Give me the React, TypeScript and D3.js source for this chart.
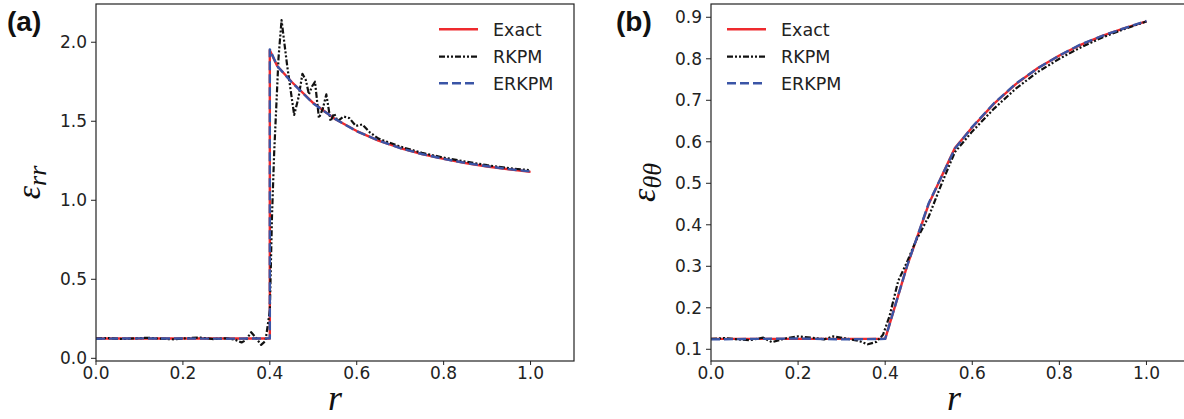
import React from "react";
import * as d3 from "d3";

// ---------- data ----------
const xTicks = [0, 0.2, 0.4, 0.6, 0.8, 1.0];
const yTicksA = [0, 0.5, 1.0, 1.5, 2.0];
const yTicksB = [0.1, 0.2, 0.3, 0.4, 0.5, 0.6, 0.7, 0.8, 0.9];
const seriesNames = ["Exact", "RKPM", "ERKPM"];

// panel (a): eps_rr
const rExactA = [0, 0.1, 0.2, 0.3, 0.4, 0.4, 0.417, 0.45, 0.5, 0.55, 0.6, 0.65, 0.7, 0.75, 0.8, 0.85, 0.9, 0.95, 1.0];
const vExactA = [0.125, 0.125, 0.125, 0.125, 0.125, 1.95, 1.85, 1.75, 1.615, 1.514, 1.438, 1.378, 1.331, 1.293, 1.262, 1.236, 1.214, 1.196, 1.18];
const vErkpmA = [0.124, 0.126, 0.125, 0.124, 0.126, 1.955, 1.85, 1.748, 1.613, 1.515, 1.437, 1.378, 1.33, 1.293, 1.262, 1.236, 1.215, 1.197, 1.182];
const rRkpmA = [0, 0.03, 0.06, 0.09, 0.12, 0.15, 0.18, 0.21, 0.24, 0.27, 0.3, 0.32, 0.335, 0.345, 0.357, 0.368, 0.38, 0.39, 0.4, 0.405, 0.41, 0.42, 0.427, 0.44, 0.456, 0.466, 0.475, 0.483, 0.49, 0.497, 0.504, 0.513, 0.522, 0.53, 0.54, 0.548, 0.556, 0.57, 0.583, 0.598, 0.613, 0.63, 0.65, 0.7, 0.75, 0.8, 0.85, 0.9, 0.95, 1.0];
const vRkpmA = [0.125, 0.128, 0.122, 0.126, 0.13, 0.124, 0.12, 0.128, 0.131, 0.122, 0.127, 0.118, 0.1, 0.115, 0.165, 0.13, 0.085, 0.11, 0.3, 0.9, 1.3, 1.9, 2.14, 1.85, 1.54, 1.65, 1.8, 1.76, 1.67, 1.72, 1.75, 1.52, 1.58, 1.67, 1.5, 1.55, 1.5, 1.53, 1.52, 1.47, 1.48, 1.43, 1.39, 1.34, 1.3, 1.27, 1.245, 1.222, 1.203, 1.19];

// panel (b): eps_thetatheta
const rExactB = [0, 0.1, 0.2, 0.3, 0.4, 0.45, 0.5, 0.56, 0.6, 0.65, 0.7, 0.75, 0.8, 0.85, 0.9, 0.95, 1.0];
const vExactB = [0.125, 0.125, 0.125, 0.125, 0.125, 0.3, 0.45, 0.585, 0.635, 0.692, 0.739, 0.777, 0.808, 0.834, 0.856, 0.874, 0.89];
const vErkpmB = [0.124, 0.125, 0.126, 0.124, 0.125, 0.3, 0.452, 0.583, 0.636, 0.693, 0.74, 0.777, 0.808, 0.835, 0.856, 0.874, 0.891];
const rRkpmB = [0, 0.03, 0.06, 0.09, 0.12, 0.14, 0.17, 0.2, 0.23, 0.26, 0.28, 0.31, 0.34, 0.36, 0.38, 0.395, 0.41, 0.43, 0.45, 0.47, 0.5, 0.53, 0.56, 0.6, 0.65, 0.7, 0.75, 0.8, 0.85, 0.9, 0.95, 1.0];
const vRkpmB = [0.125, 0.127, 0.124, 0.122, 0.128, 0.117, 0.126, 0.131, 0.128, 0.124, 0.131, 0.126, 0.12, 0.112, 0.118, 0.135, 0.18, 0.265, 0.31, 0.36, 0.42, 0.5, 0.575, 0.625, 0.68, 0.728, 0.768, 0.8, 0.828, 0.852, 0.872, 0.89];

// ---------- styles ----------
const RED = "#ee2a2e";
const BLUE = "#3a55a6";
const BLACK = "#111111";
const AX = "#222222";
const FONT = "DejaVu Sans";
const TICK_FS = 17;

type Pt = [number, number];
const zip = (r: number[], v: number[]): Pt[] => r.map((x, i) => [x, v[i]]);

interface PanelProps {
  left: number;
  right: number;
  top: number;
  bottom: number;
  xDomain: [number, number];
  yDomain: [number, number];
  yTicks: number[];
  exact: Pt[];
  rkpm: Pt[];
  erkpm: Pt[];
  legendX: number;
  label: string;
  labelX: number;
  sub: string;
  yLabelX: number;
  xLabelX: number;
}

function Panel(p: PanelProps) {
  const x = d3.scaleLinear().domain(p.xDomain).range([p.left, p.right]);
  const y = d3.scaleLinear().domain(p.yDomain).range([p.bottom, p.top]);
  const line = d3
    .line<Pt>()
    .x((d) => x(d[0]))
    .y((d) => y(d[1]));
  const styles = [
    { stroke: RED, dash: "none", w: 2.4 },
    { stroke: BLACK, dash: "6,2,2,2,2,2", w: 2.2 },
    { stroke: BLUE, dash: "9,4", w: 2.4 },
  ];
  const rows = [29.3, 56.7, 83.3];
  return (
    <g>
      <defs>
        <clipPath id={"clip" + p.label}>
          <rect x={p.left} y={p.top} width={p.right - p.left} height={p.bottom - p.top} />
        </clipPath>
      </defs>
      <g clipPath={`url(#clip${p.label})`} fill="none" strokeLinejoin="round">
        <path d={line(p.exact) || ""} stroke={styles[0].stroke} strokeWidth={styles[0].w} />
        <path d={line(p.rkpm) || ""} stroke={styles[1].stroke} strokeWidth={styles[1].w} strokeDasharray={styles[1].dash} />
        <path d={line(p.erkpm) || ""} stroke={styles[2].stroke} strokeWidth={styles[2].w} strokeDasharray={styles[2].dash} />
      </g>
      {/* spines */}
      <rect x={p.left} y={p.top} width={p.right - p.left} height={p.bottom - p.top} fill="none" stroke={AX} strokeWidth={1.2} />
      {/* x ticks */}
      {xTicks.map((t) => (
        <g key={"x" + t}>
          <line x1={x(t)} x2={x(t)} y1={p.bottom} y2={p.bottom + 4} stroke={AX} strokeWidth={1} />
          <text x={x(t)} y={p.bottom + 17.5} textAnchor="middle" fontFamily={FONT} fontSize={TICK_FS} fill={AX}>
            {t.toFixed(1)}
          </text>
        </g>
      ))}
      {/* y ticks */}
      {p.yTicks.map((t) => (
        <g key={"y" + t}>
          <line x1={p.left - 5} x2={p.left} y1={y(t)} y2={y(t)} stroke={AX} strokeWidth={1} />
          <text x={p.left - 9} y={y(t)} dy="0.36em" textAnchor="end" fontFamily={FONT} fontSize={TICK_FS} fill={AX}>
            {t.toFixed(1)}
          </text>
        </g>
      ))}
      {/* legend */}
      {seriesNames.map((name, i) => (
        <g key={name}>
          <line
            x1={p.legendX}
            x2={p.legendX + 39}
            y1={rows[i]}
            y2={rows[i]}
            stroke={styles[i].stroke}
            strokeWidth={styles[i].w}
            strokeDasharray={styles[i].dash}
          />
          <text x={p.legendX + 54} y={rows[i] + 6.4} fontFamily={FONT} fontSize={17.5} fill={AX}>
            {name}
          </text>
        </g>
      ))}
      {/* panel label */}
      <text x={p.labelX} y={31} fontFamily="Liberation Sans" fontWeight="bold" fontSize={28} fill="#111">
        {p.label}
      </text>
      {/* y label */}
      <text
        transform={`translate(${p.yLabelX},${(p.top + p.bottom) / 2}) rotate(-90)`}
        textAnchor="middle"
        fontFamily="Liberation Serif"
        fontStyle="italic"
        fontSize={34}
        fill="#111"
      >
        ε
        <tspan fontSize={26} dy={6}>
          {p.sub}
        </tspan>
      </text>
      {/* x label */}
      <text x={p.xLabelX} y={410} textAnchor="middle" fontFamily="Liberation Serif" fontStyle="italic" fontSize={36} fill="#111">
        r
      </text>
    </g>
  );
}

export default function App() {
  return (
    <svg
      width={1184}
      height={419}
      style={{ position: "absolute", left: 0, top: 0, background: "#fff" }}
      xmlns="http://www.w3.org/2000/svg"
    >
      <rect width={1184} height={419} fill="#fff" />
      <Panel
        left={96}
        right={574}
        top={4}
        bottom={361}
        xDomain={[0, 1.1]}
        yDomain={[-0.017, 2.242]}
        yTicks={yTicksA}
        exact={zip(rExactA, vExactA)}
        rkpm={zip(rRkpmA, vRkpmA)}
        erkpm={zip(rExactA, vErkpmA)}
        legendX={439}
        label="(a)"
        labelX={7}
        sub="rr"
        yLabelX={40}
        xLabelX={335}
      />
      <Panel
        left={711}
        right={1190}
        top={4}
        bottom={361}
        xDomain={[0, 1.1]}
        yDomain={[0.0718, 0.932]}
        yTicks={yTicksB}
        exact={zip(rExactB, vExactB)}
        rkpm={zip(rRkpmB, vRkpmB)}
        erkpm={zip(rExactB, vErkpmB)}
        legendX={727}
        label="(b)"
        labelX={616}
        sub="θθ"
        yLabelX={655}
        xLabelX={954}
      />
    </svg>
  );
}
